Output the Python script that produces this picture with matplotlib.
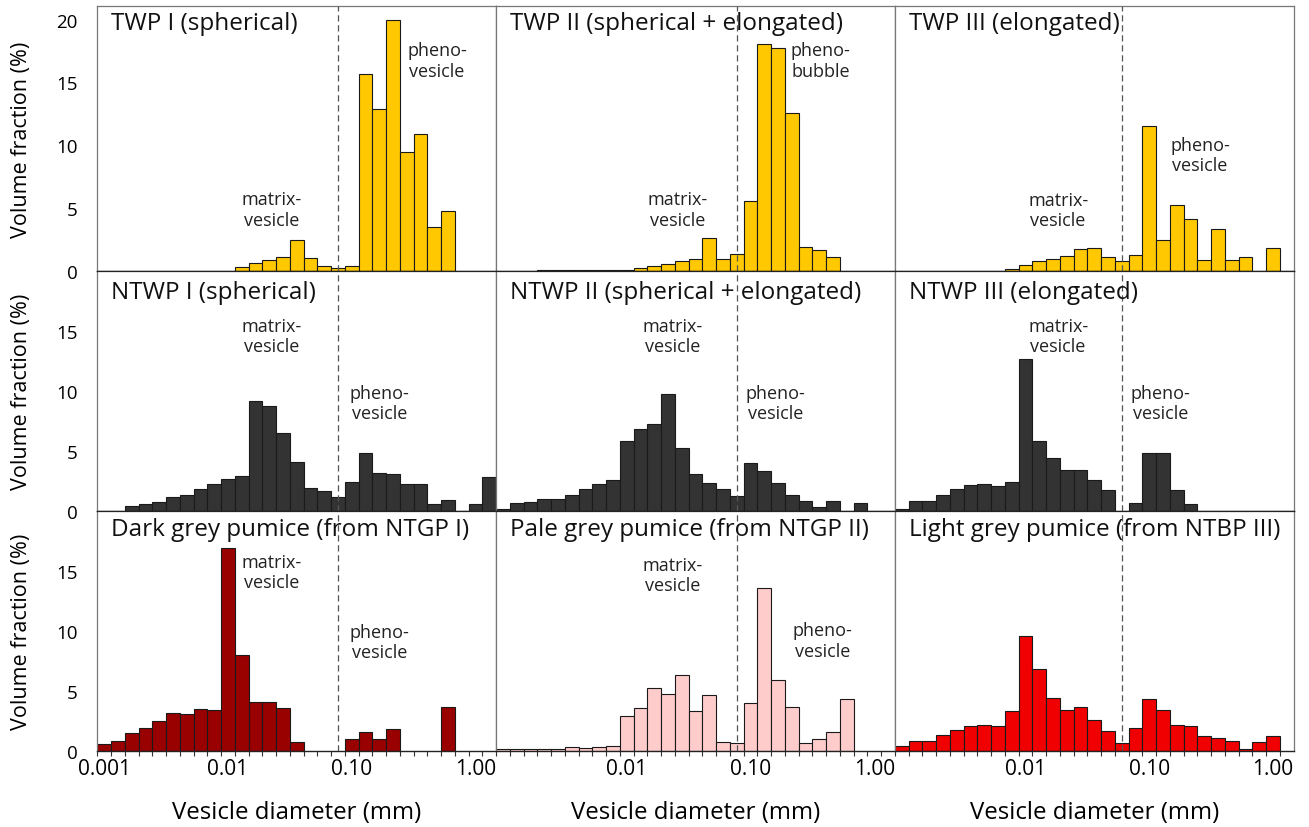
import numpy as np
import matplotlib
matplotlib.use("Agg")
import matplotlib.pyplot as plt
from matplotlib.ticker import FixedLocator, NullFormatter

plt.rcParams["font.family"] = ["Open Sans", "DejaVu Sans"]

# size bins: 9 per decade, centred on 0.001, 0.01, 0.1 and 1 mm
N_BINS = 29
bin_edges = 10 ** (-3 - 0.5 / 9 + np.arange(N_BINS + 1) / 9)

# volume fraction (%) per bin, bins 0..28
twp1 = [0, 0, 0, 0, 0, 0, 0, 0, 0, 0, 0.3, 0.64, 0.85, 1.1, 2.47, 1.06, 0.37, 0.27, 0.37,
        15.7, 12.9, 20.0, 9.5, 10.9, 3.47, 4.75, 0, 0, 0]
twp2 = [0, 0, 0, 0.05, 0.08, 0.08, 0.08, 0.1, 0.1, 0.12, 0.27, 0.42, 0.6, 0.77, 0.93, 2.6,
        0.93, 1.38, 5.6, 18.05, 17.75, 12.6, 1.94, 1.64, 1.09, 0, 0, 0, 0]
twp3 = [0, 0, 0, 0, 0, 0, 0, 0, 0.16, 0.5, 0.77, 0.93, 1.19, 1.75, 1.8, 1.11, 0.77, 1.27,
        11.5, 2.44, 5.28, 4.14, 0.85, 3.34, 0.85, 1.14, 0, 1.86, 0]
ntwp1 = [0, 0, 0.42, 0.61, 0.8, 1.17, 1.39, 1.83, 2.28, 2.69, 2.97, 9.22, 8.8, 6.5, 4.14,
         1.94, 1.69, 1.17, 2.42, 4.86, 3.19, 3.11, 2.28, 2.28, 0.64, 0.94, 0, 0.64, 2.83]
ntwp2 = [0.19, 0.67, 0.8, 1.03, 1.03, 1.39, 1.86, 2.28, 2.64, 5.83, 6.86, 7.28, 9.75, 5.25,
         3.06, 2.33, 1.86, 1.25, 4.0, 3.39, 2.33, 1.36, 0.83, 0.36, 0.89, 0, 0.69, 0, 0]
ntwp3 = [0.19, 0.86, 0.86, 1.39, 1.83, 2.19, 2.25, 2.11, 2.42, 12.7, 5.83, 4.47, 3.47, 3.47,
         2.64, 1.75, 0, 0.72, 4.83, 4.89, 1.75, 0.58, 0, 0, 0, 0, 0, 0, 0]
dark_grey = [0.64, 0.89, 1.5, 1.94, 2.53, 3.19, 3.08, 3.5, 3.42, 16.94, 8.06, 4.14, 4.14,
             3.64, 0.78, 0, 0, 0, 1.03, 1.61, 1.03, 1.89, 0, 0, 0, 3.69, 0, 0, 0]
pale_grey = [0.17, 0.19, 0.22, 0.22, 0.22, 0.36, 0.3, 0.33, 0.42, 2.92, 3.61, 5.28, 4.78,
             6.33, 3.33, 4.72, 0.81, 0.67, 4.03, 13.6, 5.94, 3.69, 0.72, 1.03, 1.58, 4.39,
             0, 0, 0]
light_grey = [0.47, 0.83, 0.83, 1.36, 1.81, 2.14, 2.22, 2.08, 3.36, 9.61, 6.83, 4.42, 3.44,
              3.72, 2.61, 1.72, 0.67, 1.92, 4.33, 3.47, 2.22, 2.14, 1.28, 1.08, 0.83, 0.19,
              0.75, 1.28, 0]

series = [[twp1, twp2, twp3], [ntwp1, ntwp2, ntwp3], [dark_grey, pale_grey, light_grey]]
titles = [["TWP I (spherical)", "TWP II (spherical + elongated)", "TWP III (elongated)"],
          ["NTWP I (spherical)", "NTWP II (spherical + elongated)", "NTWP III (elongated)"],
          ["Dark grey pumice (from NTGP I)", "Pale grey pumice (from NTGP II)",
           "Light grey pumice (from NTBP III)"]]
row_colors = [["#FFC800"] * 3, ["#333333"] * 3, ["#990000", "#FFCCCC", "#F00000"]]

# matrix / pheno boundary diameter (mm) for each column
cutoffs = [0.0774, 0.0774, 0.0600]

# text labels: (x diameter, y %, text)
notes = {
    (0, 0): [(0.0227, 4.9, "matrix-\nvesicle"), (0.489, 16.75, "pheno-\nvesicle")],
    (0, 1): [(0.0258, 4.9, "matrix-\nvesicle"), (0.369, 16.75, "pheno-\nbubble")],
    (0, 2): [(0.0184, 4.85, "matrix-\nvesicle"), (0.258, 9.23, "pheno-\nvesicle")],
    (1, 0): [(0.0227, 14.57, "matrix-\nvesicle"), (0.169, 9.03, "pheno-\nvesicle")],
    (1, 1): [(0.0235, 14.57, "matrix-\nvesicle"), (0.160, 9.03, "pheno-\nvesicle")],
    (1, 2): [(0.0184, 14.57, "matrix-\nvesicle"), (0.123, 9.03, "pheno-\nvesicle")],
    (2, 0): [(0.0227, 14.94, "matrix-\nvesicle"), (0.169, 9.11, "pheno-\nvesicle")],
    (2, 1): [(0.0235, 14.65, "matrix-\nvesicle"), (0.383, 9.23, "pheno-\nvesicle")],
}

row_ylim = [21.08, 20.0, 20.0]
row_yticks = [[0, 5, 10, 15, 20], [0, 5, 10, 15], [0, 5, 10, 15]]
title_y = [0.936, 0.915, 0.925]

fig = plt.figure(figsize=(13.09, 8.28), dpi=100)
gs = fig.add_gridspec(3, 3, left=0.07433, right=0.98816, top=0.99155, bottom=0.0914,
                      height_ratios=[265, 240, 240], hspace=0, wspace=0)

widths = np.diff(bin_edges)
for r in range(3):
    for c in range(3):
        ax = fig.add_subplot(gs[r, c])
        vals = np.array(series[r][c], dtype=float)
        keep = vals > 0
        ax.bar(bin_edges[:-1][keep], vals[keep], width=widths[keep], align="edge",
               color=row_colors[r][c], edgecolor="#1a1a1a", linewidth=0.8, zorder=2)
        ax.axvline(cutoffs[c], color="#555555", linestyle=(0, (5, 3)), linewidth=0.9,
                   zorder=3)
        ax.set_xscale("log")
        ax.set_xlim(bin_edges[0], bin_edges[0] * 10 ** (N_BINS / 9))
        ax.set_ylim(0, row_ylim[r])

        ax.text(0.035, title_y[r], titles[r][c], transform=ax.transAxes, ha="left",
                va="center", fontsize=17.5, color="#111111", zorder=4)
        for x, y, s in notes.get((r, c), []):
            ax.text(x, y, s, ha="center", va="center", fontsize=13, color="#222222",
                    linespacing=1.15, zorder=4)

        # y axis
        ax.set_yticks(row_yticks[r])
        ax.tick_params(axis="y", length=0, pad=14, labelsize=13.5)
        if c > 0:
            ax.tick_params(axis="y", labelleft=False)

        # x axis
        ax.xaxis.set_minor_formatter(NullFormatter())
        if r == 2:
            if c == 0:
                ax.set_xticks([0.001, 0.01, 0.1, 1.0])
                ax.set_xticklabels(["0.001", "0.01", "0.10", "1.00"])
            else:
                ax.set_xticks([0.01, 0.1, 1.0])
                ax.set_xticklabels(["0.01", "0.10", "1.00"])
            ax.xaxis.set_minor_locator(FixedLocator(bin_edges[:-1]))
            ax.tick_params(axis="x", which="major", length=0, pad=5, labelsize=15)
            ax.tick_params(axis="x", which="minor", length=3.3, width=0.8,
                           direction="out", color="#333333")
            ax.set_xlabel("Vesicle diameter (mm)", fontsize=17.3, labelpad=15)
        else:
            ax.set_xticks([])
            ax.xaxis.set_minor_locator(FixedLocator([]))

        for side in ("left", "right"):
            ax.spines[side].set_color("#777777")
            ax.spines[side].set_linewidth(0.9)
        ax.spines["bottom"].set_color("#222222")
        ax.spines["bottom"].set_linewidth(1.0)
        ax.spines["top"].set_color("#777777" if r == 0 else "#222222")
        ax.spines["top"].set_linewidth(0.9)

        if c == 0:
            box = ax.get_position()
            fig.text(0.0168, (box.y0 + box.y1) / 2, "Volume fraction (%)", rotation=90,
                     ha="center", va="center", fontsize=15.5)

fig.savefig("out.png", dpi=100)
